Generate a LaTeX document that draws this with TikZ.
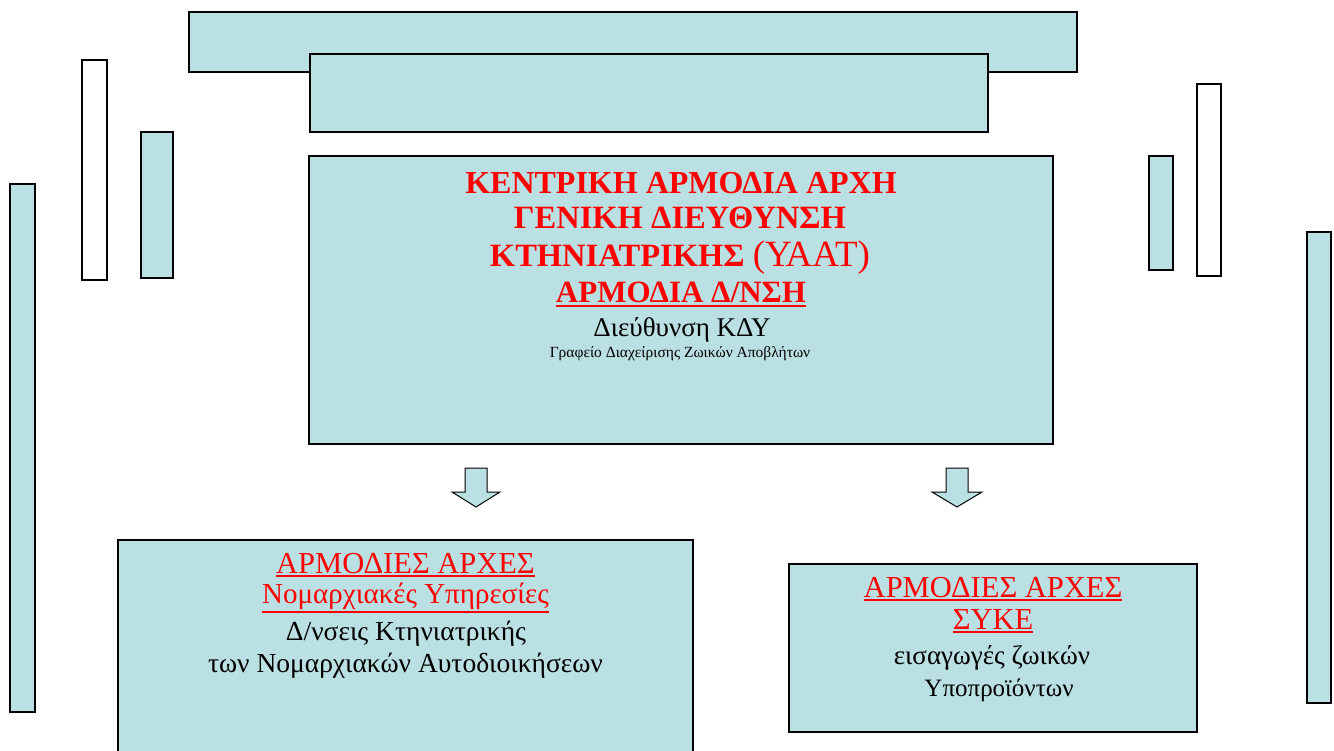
\documentclass[tikz,border=0pt]{standalone}
\usepackage{fontspec}
\setmainfont{Liberation Serif}
\definecolor{boxfill}{RGB}{187,224,227}
\definecolor{txtred}{RGB}{255,0,0}
\newcommand\redul[1]{\leavevmode\vtop{\hbox{#1}\kern1.5pt\hrule height 2pt}}
\tikzset{
  panel/.style={draw=black, line width=1.6pt, fill=boxfill},
  emptypanel/.style={draw=black, line width=1.6pt, fill=white},
  txt/.style={inner sep=0pt, anchor=base},
  blockarrow/.style={draw=black, line width=1pt, fill=boxfill, line join=miter},
}
\begin{document}
\begin{tikzpicture}[x=1pt,y=-1pt]
\clip (0,0) rectangle (1334,751);
\fill[white] (0,0) rectangle (1334,751);
% decorative bars
\draw[emptypanel] (82,60) rectangle (107,280);
\draw[panel] (141,132) rectangle (173,278);
\draw[panel] (10,184) rectangle (35,712);
\draw[panel] (1149,156) rectangle (1173,270);
\draw[emptypanel] (1197,84) rectangle (1221,276);
\draw[panel] (1307,232) rectangle (1331,703);
% top boxes
\node[panel, inner sep=0pt, minimum width=888pt, minimum height=60pt] (top1) at (633,42) {};
\node[panel, inner sep=0pt, minimum width=678pt, minimum height=78pt] (top2) at (649,93) {};
% central box
\node[panel, inner sep=0pt, minimum width=744pt, minimum height=288pt] (central) at (681,300) {};
\node[txt, text=txtred, font=\fontsize{32}{38}\selectfont\bfseries] (c1) at (681,194) {ΚΕΝΤΡΙΚΗ ΑΡΜΟΔΙΑ ΑΡΧΗ};
\node[txt, text=txtred, font=\fontsize{32.5}{38}\selectfont\bfseries] (c2) at (680,229) {ΓΕΝΙΚΗ ΔΙΕΥΘΥΝΣΗ};
\node[txt, text=txtred, font=\fontsize{32.5}{38}\selectfont\bfseries] (c3) at (680,267) {ΚΤΗΝΙΑΤΡΙΚΗΣ {\mdseries\fontsize{37}{42}\selectfont (ΥΑΑΤ)}};
\node[txt, text=txtred, font=\fontsize{31}{36}\selectfont\bfseries] (c4) at (681,303) {\redul{ΑΡΜΟΔΙΑ Δ/ΝΣΗ}};
\node[txt, text=black, font=\fontsize{27}{32}\selectfont] (c5) at (682,337) {Διεύθυνση ΚΔΥ};
\node[txt, text=black, font=\fontsize{15.5}{18}\selectfont] (c6) at (680,358) {Γραφείο Διαχείρισης Ζωικών Αποβλήτων};
% block arrows
\draw[blockarrow] (465,468) -- (487,468) -- (487,492) -- (500,492) -- (476,507) -- (452,492) -- (465,492) -- cycle;
\draw[blockarrow] (946,468) -- (968,468) -- (968,492) -- (982,492) -- (957,507) -- (932,492) -- (946,492) -- cycle;
% bottom left box
\node[panel, inner sep=0pt, minimum width=575pt, minimum height=240pt] (left) at (405.5,660) {};
\node[txt, text=txtred, font=\fontsize{30.5}{36}\selectfont] (l1) at (405.5,573) {\redul{ΑΡΜΟΔΙΕΣ ΑΡΧΕΣ}};
\node[txt, text=txtred, font=\fontsize{29}{34}\selectfont] (l2) at (405.5,603) {\redul{Νομαρχιακές Υπηρεσίες}};
\node[txt, text=black, font=\fontsize{27.5}{32}\selectfont] (l3) at (406,640) {Δ/νσεις Κτηνιατρικής};
\node[txt, text=black, font=\fontsize{27.5}{32}\selectfont] (l4) at (405.5,672) {των Νομαρχιακών Αυτοδιοικήσεων};
% bottom right box
\node[panel, inner sep=0pt, minimum width=408pt, minimum height=168pt] (right) at (993,648) {};
\node[txt, text=txtred, font=\fontsize{30.5}{36}\selectfont] (r1) at (993,597) {\redul{ΑΡΜΟΔΙΕΣ ΑΡΧΕΣ}};
\node[txt, text=txtred, font=\fontsize{30.5}{36}\selectfont] (r2) at (993,629) {\redul{ΣΥΚΕ}};
\node[txt, text=black, font=\fontsize{27}{32}\selectfont] (r3) at (992,664) {εισαγωγές ζωικών};
\node[txt, text=black, font=\fontsize{25}{30}\selectfont] (r4) at (999,696) {Υποπροϊόντων};
\end{tikzpicture}
\end{document}
